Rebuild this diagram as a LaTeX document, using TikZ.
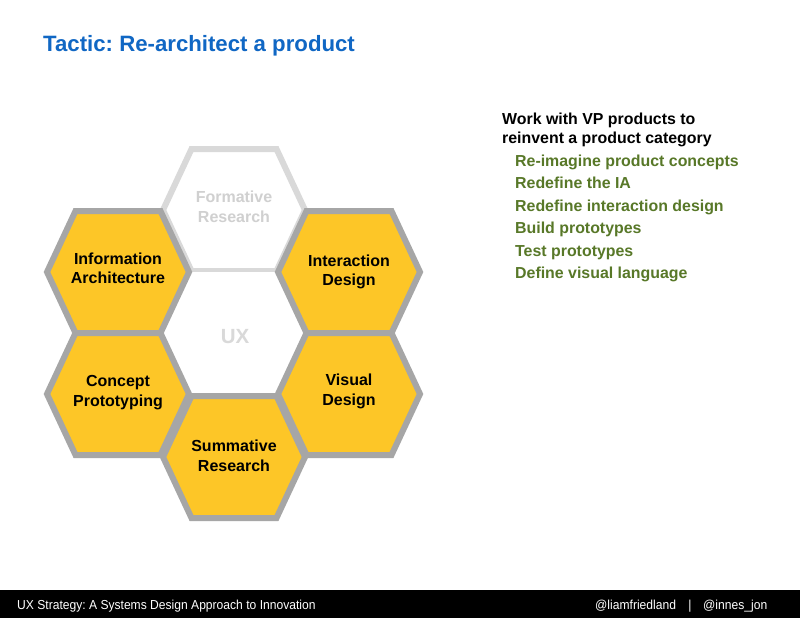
\documentclass[tikz,border=0pt]{standalone}
\usepackage{fontspec}
\setmainfont{Liberation Sans}
\newfontfamily\footfont[FakeStretch=0.93]{Liberation Sans}
\frenchspacing
\definecolor{titleblue}{RGB}{16,103,196}
\definecolor{hexfill}{RGB}{253,198,39}
\definecolor{hexline}{RGB}{166,166,166}
\definecolor{paleline}{RGB}{217,217,217}
\definecolor{paletext}{RGB}{208,208,208}
\definecolor{olivetext}{RGB}{88,120,40}
\tikzset{
  hexagon/.pic={\path[pic actions] (-71,0) -- (-42.5,-61) -- (42.5,-61) -- (71,0) -- (42.5,61) -- (-42.5,61) -- cycle;},
  hexbox/.style={draw=hexline,fill=hexfill,line width=6pt,line join=miter},
  palehex/.style={draw=paleline,fill=white,line width=6pt,line join=miter},
  blankhex/.style={fill=white},
  hexlabel/.style={align=center,anchor=base,inner sep=0pt,font=\fontsize{16}{19.5}\selectfont\bfseries},
  palelabel/.style={hexlabel,text=paletext},
  bullet/.style={anchor=base west,inner sep=0pt,text=olivetext,font=\fontsize{15.9}{20}\selectfont\bfseries},
  lead/.style={anchor=base west,inner sep=0pt,text=black,font=\fontsize{15.9}{20}\selectfont\bfseries},
  foot/.style={inner sep=0pt,text=white,font=\fontsize{13}{14}\footfont}
}
\begin{document}
\begin{tikzpicture}[x=1pt,y=-1pt]
\useasboundingbox (0,0) rectangle (800,618);
\fill[white] (0,0) rectangle (800,618);

% title
\node[anchor=base west,inner sep=0pt,text=titleblue,font=\fontsize{22.2}{24}\selectfont\bfseries] (title) at (43,52) {Tactic: Re-architect a product};

% hexagons
\pic[palehex] at (234,210) {hexagon};
\pic[blankhex] at (234,333) {hexagon};
\pic[hexbox] at (118,272) {hexagon};
\pic[hexbox] at (349,272) {hexagon};
\pic[hexbox] at (118,394) {hexagon};
\pic[hexbox] at (349,394) {hexagon};
\pic[hexbox] at (234,457) {hexagon};

% hex labels (anchored at the baseline of the last line)
\node[palelabel] (formative) at (234,222) {Formative\\Research};
\node[hexlabel] (ia) at (118,283.5) {Information\\Architecture};
\node[hexlabel] (id) at (349,285.5) {Interaction\\Design};
\node[hexlabel] (cp) at (118,406) {Concept\\Prototyping};
\node[hexlabel] (vd) at (349,405) {Visual\\Design};
\node[hexlabel] (sr) at (234,471) {Summative\\Research};
\node[anchor=base,inner sep=0pt,text=paleline,font=\fontsize{20.5}{22}\selectfont\bfseries] (ux) at (235,343) {UX};

% right text
\node[lead] (l1) at (502,124.5) {Work with VP products to};
\node[lead] (l2) at (502,143) {reinvent a product category};
\node[bullet] (b1) at (515,166) {Re-imagine product concepts};
\node[bullet] (b2) at (515,188.5) {Redefine the IA};
\node[bullet] (b3) at (515,211) {Redefine interaction design};
\node[bullet] (b4) at (515,233.5) {Build prototypes};
\node[bullet] (b5) at (515,256) {Test prototypes};
\node[bullet] (b6) at (515,278.5) {Define visual language};

% footer
\fill[black] (0,590) rectangle (800,618);
\node[foot,anchor=base west] (f1) at (17,609) {UX Strategy: A Systems Design Approach to Innovation};
\node[foot,anchor=base west] (f2) at (595,609) {@liamfriedland};
\node[foot,anchor=base] (f3) at (690,609) {|};
\node[foot,anchor=base west] (f4) at (703,609) {@innes\_jon};
\end{tikzpicture}
\end{document}
